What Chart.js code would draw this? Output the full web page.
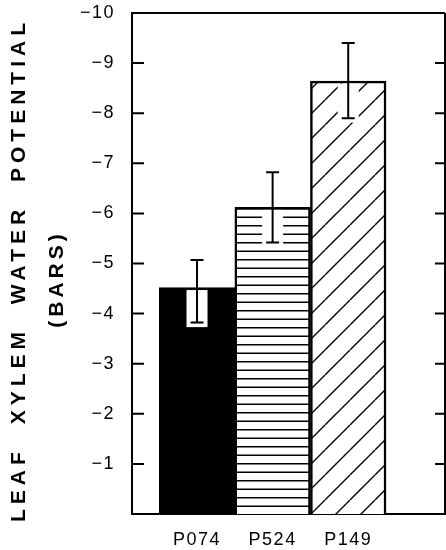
<!DOCTYPE html>
<html>
<head>
<meta charset="utf-8">
<script src="https://cdn.jsdelivr.net/npm/chart.js@4.4.0/dist/chart.umd.min.js"></script>
<style>
  html, body { margin: 0; padding: 0; background: #fff; }
</style>
</head>
<body>
<canvas id="chart" width="446" height="550"></canvas>
<script>
  // data (bars)
  var cultivars = ['P074', 'P524', 'P149'];
  var potential = [-4.52, -6.12, -8.64];
  var errLow = [-3.82, -5.42, -7.90];   // whisker end toward zero
  var errHigh = [-5.07, -6.82, -9.40];
  var yTickValues = [-10, -9, -8, -7, -6, -5, -4, -3, -2, -1];
  var yTitle = 'LEAF XYLEM WATER POTENTIAL';
  var yUnits = '(BARS)';

  var FONT = '"Liberation Sans", Arial, sans-serif';

  function hLines() {
    var c = document.createElement('canvas');
    c.width = 10; c.height = 17;
    var g = c.getContext('2d');
    g.fillStyle = '#fff';
    g.fillRect(0, 0, 10, 17);
    g.fillStyle = '#000';
    g.fillRect(0, 4, 10, 1.5);
    g.fillRect(0, 12.5, 10, 1.5);
    return g.createPattern(c, 'repeat');
  }

  function diagLines() {
    var s = 25;
    var c = document.createElement('canvas');
    c.width = s; c.height = s;
    var g = c.getContext('2d');
    g.fillStyle = '#fff';
    g.fillRect(0, 0, s, s);
    g.strokeStyle = '#000';
    g.lineWidth = 1.4;
    g.beginPath();
    [-s, 0, s].forEach(function (k) {
      g.moveTo(k, s);
      g.lineTo(k + s, 0);
    });
    g.stroke();
    return g.createPattern(c, 'repeat');
  }

  var fills = ['#000', hLines(), diagLines()];

  // error bars, with the white gap cut into the fill as in the original
  var errorBars = {
    id: 'errorBars',
    afterDatasetsDraw: function (chart) {
      var ctx = chart.ctx;
      var y = chart.scales.y;
      var meta = chart.getDatasetMeta(0);
      ctx.save();
      meta.data.forEach(function (bar, i) {
        var x = bar.x;
        var lo = y.getPixelForValue(errLow[i]);
        var hi = y.getPixelForValue(errHigh[i]);
        ctx.fillStyle = '#fff';
        ctx.fillRect(x - 10.5, bar.y + 2.5, 21, lo - bar.y + 2);
        ctx.strokeStyle = '#000';
        ctx.lineWidth = 2;
        ctx.beginPath();
        ctx.moveTo(x, hi); ctx.lineTo(x, lo);
        ctx.moveTo(x - 6.5, hi); ctx.lineTo(x + 6.5, hi);
        ctx.moveTo(x - 6.5, lo); ctx.lineTo(x + 6.5, lo);
        ctx.stroke();
      });
      ctx.restore();
      // x labels are drawn after this (x axis z = 1)
      ctx.letterSpacing = '1.5px';
    }
  };

  // closed frame, inward ticks on both sides, rotated axis title
  var frame = {
    id: 'frame',
    beforeDraw: function (chart) {
      chart.ctx.letterSpacing = '1.5px';
    },
    afterDraw: function (chart) {
      var ctx = chart.ctx;
      var a = chart.chartArea;
      var y = chart.scales.y;
      ctx.save();
      ctx.strokeStyle = '#000';
      ctx.lineWidth = 2;
      ctx.beginPath();
      ctx.moveTo(a.left, a.top); ctx.lineTo(a.right, a.top);
      ctx.moveTo(a.right, a.top); ctx.lineTo(a.right, a.bottom);
      yTickValues.forEach(function (v) {
        var py = y.getPixelForValue(v);
        ctx.moveTo(a.left, py); ctx.lineTo(a.left + 12, py);
        ctx.moveTo(a.right - 10, py); ctx.lineTo(a.right, py);
      });
      ctx.stroke();

      ctx.fillStyle = '#000';
      ctx.textAlign = 'center';
      ctx.textBaseline = 'middle';
      ctx.font = 'bold 21px ' + FONT;
      ctx.letterSpacing = '5px';
      ctx.wordSpacing = '12px';
      ctx.translate(19, 270);
      ctx.rotate(-Math.PI / 2);
      ctx.fillText(yTitle, 0, 0);
      ctx.letterSpacing = '4px';
      ctx.wordSpacing = '0px';
      ctx.fillText(yUnits, -9, 38);
      ctx.restore();
    }
  };

  new Chart(document.getElementById('chart'), {
    type: 'bar',
    data: {
      datasets: [{
        data: cultivars.map(function (c, i) { return { x: i + 1, y: potential[i] }; }),
        backgroundColor: fills,
        borderColor: '#000',
        borderWidth: 2.5,
        barPercentage: 1,
        categoryPercentage: 1
      }]
    },
    options: {
      responsive: false,
      animation: false,
      devicePixelRatio: 1,
      layout: { padding: { top: 13, right: 1, left: 0, bottom: 0 } },
      plugins: { legend: { display: false }, tooltip: { enabled: false } },
      scales: {
        x: {
          type: 'linear',
          offset: false,
          z: 1,
          min: 0.14,
          max: 4.28,
          grid: { display: false, drawTicks: false, offset: false },
          border: { display: true, color: '#000', width: 2 },
          afterBuildTicks: function (s) {
            s.ticks = cultivars.map(function (c, i) { return { value: i + 1 }; });
          },
          afterFit: function (s) {
            s.height = 36;
            s.paddingLeft = 0; s.paddingRight = 0;
          },
          ticks: {
            padding: 15,
            color: '#000',
            font: { family: FONT, size: 18 },
            maxRotation: 0,
            autoSkip: false,
            callback: function (v) { return cultivars[v - 1]; }
          }
        },
        y: {
          min: -10,
          max: 0,
          reverse: true,
          grid: { display: false, drawTicks: false },
          border: { display: true, color: '#000', width: 2 },
          afterBuildTicks: function (s) {
            s.ticks = yTickValues.map(function (v) { return { value: v }; });
          },
          afterFit: function (s) {
            s.width = 132;
            s.paddingTop = 0; s.paddingBottom = 0;
          },
          ticks: {
            padding: 17,
            color: '#000',
            font: { family: FONT, size: 18 },
            callback: function (v) { return '\u2212' + Math.abs(v); }
          }
        }
      }
    },
    plugins: [errorBars, frame]
  });
</script>
</body>
</html>
